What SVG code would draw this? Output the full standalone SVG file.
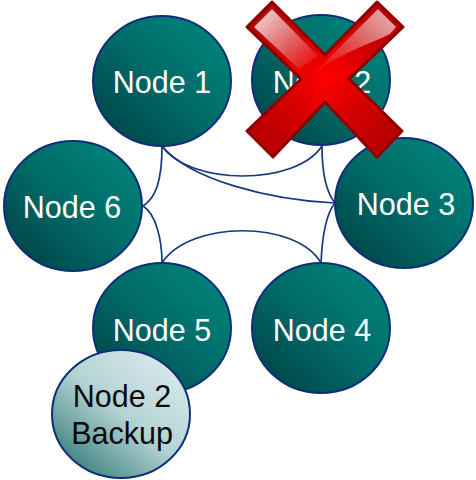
<svg xmlns="http://www.w3.org/2000/svg" width="476" height="480" viewBox="0 0 476 480">
<style>
.n{stroke:#0d2f7a;stroke-width:2;fill:url(#teal)}
.b{stroke:#0d2f7a;stroke-width:2;fill:url(#pale)}
.t{font-family:"Liberation Sans",Arial,sans-serif;font-size:30.5px;text-anchor:middle;fill:#fff}
.k{fill:#0a0a0a}
.c{fill:none;stroke:#14397f;stroke-width:1.7}
</style>
<defs>
<linearGradient id="teal" x1="0.85" y1="0.15" x2="0.15" y2="0.85"><stop offset="0" stop-color="#008078"/><stop offset="0.5" stop-color="#006b68"/><stop offset="1" stop-color="#004a4c"/></linearGradient>
<linearGradient id="pale" x1="0.85" y1="0.1" x2="0.15" y2="0.9"><stop offset="0" stop-color="#d6e8ea"/><stop offset="0.5" stop-color="#b4d2d2"/><stop offset="1" stop-color="#3f8482"/></linearGradient>
<radialGradient id="red" gradientUnits="userSpaceOnUse" cx="325" cy="78" r="90"><stop offset="0" stop-color="#ff0000"/><stop offset="0.55" stop-color="#d00000"/><stop offset="1" stop-color="#b80000"/></radialGradient>
<linearGradient id="gloss" gradientUnits="userSpaceOnUse" x1="268" y1="18" x2="312" y2="66"><stop offset="0" stop-color="#fff" stop-opacity="0.72"/><stop offset="1" stop-color="#fff" stop-opacity="0.05"/></linearGradient>
<linearGradient id="gloss2" gradientUnits="userSpaceOnUse" x1="385" y1="18" x2="330" y2="70"><stop offset="0" stop-color="#fff" stop-opacity="0.62"/><stop offset="1" stop-color="#fff" stop-opacity="0.06"/></linearGradient>
</defs>
<g id="connectors">
<path class="c" d="M162 146C190 186 296 186 322 146"/>
<path class="c" d="M162 146C190 180 270 200 335 203"/>
<path class="c" d="M162 146C162 180 156 198 143 206"/>
<path class="c" d="M143 206C156 214 162 240 162 263"/>
<path class="c" d="M162 263C190 220 296 220 321 263"/>
<path class="c" d="M321 263C322 240 326 214 335 203"/>
<path class="c" d="M322 146C322 170 326 192 335 203"/>
</g>
<g id="node1"><ellipse class="n" cx="162" cy="81" rx="69" ry="65"/><text class="t" x="162" y="93">Node 1</text></g>
<g id="node2"><ellipse class="n" cx="321" cy="80" rx="69" ry="65"/><text class="t" x="322" y="93">Node 2</text></g>
<g id="node3"><ellipse class="n" cx="404" cy="203" rx="69" ry="65"/><text class="t" x="406" y="215">Node 3</text></g>
<g id="node4"><ellipse class="n" cx="321" cy="328" rx="69" ry="65"/><text class="t" x="322" y="341">Node 4</text></g>
<g id="node5"><ellipse class="n" cx="162" cy="328" rx="69" ry="65"/><text class="t" x="162" y="341">Node 5</text></g>
<g id="node6"><ellipse class="n" cx="73" cy="206" rx="69" ry="65"/><text class="t" x="72" y="218">Node 6</text></g>
<g id="backup"><ellipse class="b" cx="121" cy="414" rx="69" ry="64"/><text class="t k" x="122" y="407">Node 2</text><text class="t k" x="122" y="444">Backup</text></g>
<g id="cross">
<polygon points="272,2 325,55 377,2 403,27 349,79 402,131 377,157 325,102 273,157 247,131 301,79 247,27" fill="url(#red)" stroke="#8c0000" stroke-width="3" stroke-linejoin="round"/>
<polygon points="272,9 318,56 299,69 254,27" fill="url(#gloss)"/>
<path d="M378 9L396 27L390 34C365 46 335 55 312 76L326 61Z" fill="url(#gloss2)"/>
</g>
</svg>
